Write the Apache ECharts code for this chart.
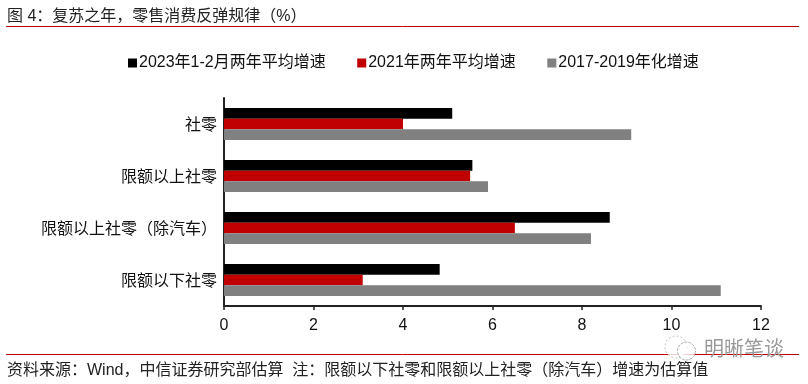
<!DOCTYPE html>
<html>
<head>
<meta charset="utf-8">
<title>图 4</title>
<script src="https://cdn.jsdelivr.net/npm/echarts@6/dist/echarts.min.js"></script>
<style>
  html, body { margin: 0; padding: 0; background: #fff; }
  #main { width: 808px; height: 384px; }
</style>
</head>
<body>
<div id="main"></div>
<script>
var categories = ['社零', '限额以上社零', '限额以上社零（除汽车）', '限额以下社零'];
var seriesNames = ['2023年1-2月两年平均增速', '2021年两年平均增速', '2017-2019年化增速'];
var avg2023 = [5.1, 5.55, 8.62, 4.82];
var avg2021 = [4.0, 5.5, 6.5, 3.1];
var annual1719 = [9.1, 5.9, 8.2, 11.1];
var seriesColors = ['#000000', '#c00000', '#808080'];

var titleText = '图 4：复苏之年，零售消费反弹规律（%）';
var footText = '资料来源：Wind，中信证券研究部估算  注：限额以下社零和限额以上社零（除汽车）增速为估算值';
var markText = '明晰笔谈';

var fontName = '"Liberation Sans", "Noto Sans CJK SC", sans-serif';
var textColor = '#111111';

var chart = echarts.init(document.getElementById('main'));

function makeBar(i, values) {
  return {
    name: seriesNames[i],
    type: 'bar',
    data: values,
    barGap: 0,
    barCategoryGap: '38%',
    silent: true,
    itemStyle: { color: seriesColors[i] }
  };
}

var option = {
  animation: false,
  backgroundColor: '#fff',
  textStyle: { fontFamily: fontName },
  legend: {
    left: 123,
    top: 50,
    itemWidth: 9,
    itemHeight: 9,
    itemGap: 31.5,
    icon: 'rect',
    selectedMode: false,
    textStyle: { fontSize: 16, color: textColor, fontFamily: fontName, padding: [0, 0, 0, -3] },
    data: seriesNames
  },
  grid: { left: 224, right: 47, top: 98, height: 208, containLabel: false },
  xAxis: {
    type: 'value',
    min: 0,
    max: 12,
    interval: 2,
    splitLine: { show: false },
    axisLine: { show: true, lineStyle: { color: '#222', width: 2 } },
    axisTick: { show: true, length: 4, lineStyle: { color: '#222', width: 1.5 } },
    axisLabel: { fontSize: 16, color: textColor, margin: 12, fontFamily: fontName }
  },
  yAxis: {
    type: 'category',
    inverse: true,
    data: categories,
    axisLine: { show: true, lineStyle: { color: '#222', width: 2 } },
    axisTick: { show: false },
    axisLabel: { fontSize: 16, color: textColor, margin: 7, verticalAlign: 'top', padding: [-6, 0, 0, 0], fontFamily: fontName }
  },
  series: [makeBar(0, avg2023), makeBar(1, avg2021), makeBar(2, annual1719)],
  graphic: [
    { type: 'text', left: 7, top: 9, style: { text: titleText, fontSize: 16, fill: '#222', fontFamily: fontName } },
    { type: 'line', shape: { x1: 6, y1: 26.5, x2: 799, y2: 26.5 }, style: { stroke: '#c00000', lineWidth: 1 } },
    { type: 'line', shape: { x1: 6, y1: 354.5, x2: 799, y2: 354.5 }, style: { stroke: '#c00000', lineWidth: 1 } },
    { type: 'text', left: 7, top: 363, style: { text: footText, fontSize: 16, fill: '#222', fontFamily: fontName } },
    // 水印
    { type: 'circle', shape: { cx: 676, cy: 347, r: 11 }, style: { fill: 'rgba(255,255,255,0.8)', stroke: '#c0c0c0', lineWidth: 1, lineDash: [2, 2] } },
    { type: 'circle', shape: { cx: 686.5, cy: 351, r: 9 }, style: { fill: 'rgba(255,255,255,0.8)', stroke: '#b0b0b0', lineWidth: 1, lineDash: [3, 1] } },
    { type: 'text', left: 704, top: 340, style: { text: markText, fontSize: 20, fill: '#999999', fontFamily: fontName } }
  ]
};

chart.setOption(option);
</script>
</body>
</html>
